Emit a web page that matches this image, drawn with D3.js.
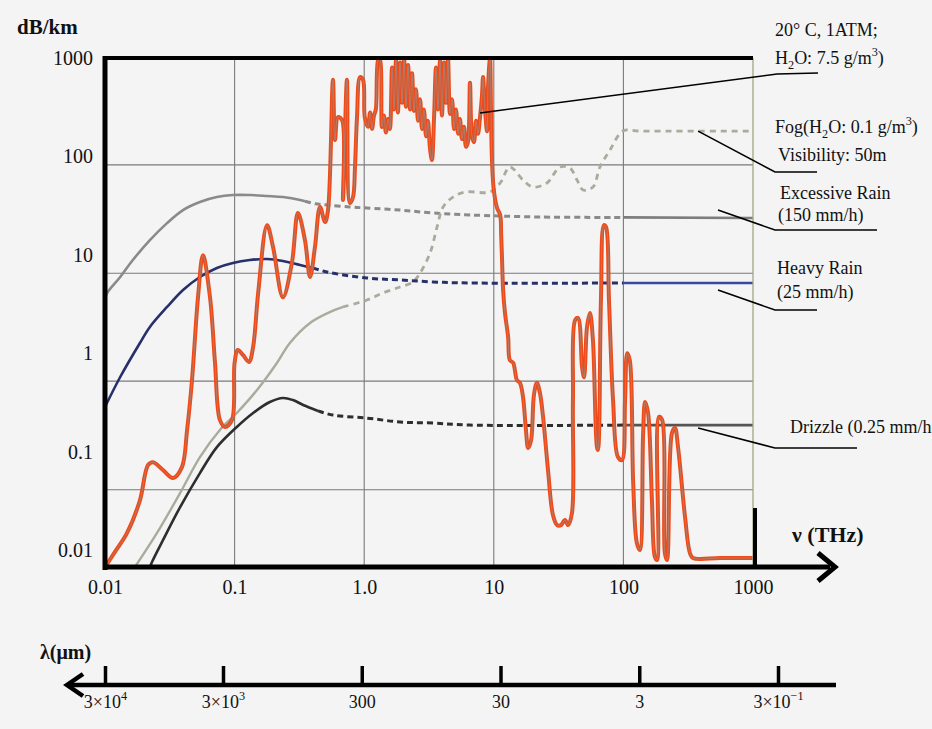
<!DOCTYPE html>
<html>
<head>
<meta charset="utf-8">
<script src="https://cdn.jsdelivr.net/npm/d3@7"></script>
<style>
  html, body { margin: 0; padding: 0; background: #f4f4f4; }
  svg { display: block; font-family: "Liberation Serif", "Times New Roman", serif; }
</style>
</head>
<body>
<svg id="chart" width="932" height="729"></svg>
<script>
// ---- axis ticks -------------------------------------------------------
const freqTicks = [0.01, 0.1, 1, 10, 100, 1000];                 // THz
const freqTickLabels = ["0.01", "0.1", "1.0", "10", "100", "1000"];
const attenTicks = [1000, 100, 10, 1, 0.1, 0.01];                // dB/km
const attenTickLabels = ["1000", "100", "10", "1", "0.1", "0.01"];
const gridRows = [82, 6.5, 0.52, 0.041];                         // horizontal grid rules, dB/km
const gridCols = [0.1, 1, 10, 100];                              // vertical grid rules, THz
const wavelengthTicks = [3e4, 3e3, 300, 30, 3, 0.3];             // µm
const wavelengthLabels = ["3×10^{4}", "3×10^{3}", "300", "30", "3", "3×10^{−1}"];

// ---- attenuation curves: [frequency THz, attenuation dB/km] ------------
// Water vapour absorption (20 °C, 1 atm, 7.5 g/m3)
const waterVapour = [
  [0.01, 0.0067], [0.0119, 0.0095], [0.0148, 0.0149], [0.0186, 0.032], [0.0215, 0.073],
  [0.0235, 0.078], [0.028, 0.065], [0.0335, 0.054], [0.0393, 0.070], [0.043, 0.166],
  [0.0469, 0.53], [0.0522, 3.7], [0.057, 9.9], [0.0646, 3.7], [0.0706, 0.8],
  [0.077, 0.21], [0.0843, 0.178], [0.0955, 0.21], [0.1, 0.8], [0.106, 1.08],
  [0.116, 0.96], [0.129, 0.815], [0.139, 1.16], [0.152, 4.1], [0.178, 20],
  [0.198, 12], [0.236, 3.7], [0.277, 8.3], [0.308, 26.6], [0.349, 14.1],
  [0.382, 5.95], [0.417, 12], [0.456, 30.6], [0.499, 21.5], [0.526, 28.5],
  [0.574, 600], [0.595, 147], [0.628, 251], [0.675, 234], [0.686, 36],
  [0.736, 600], [0.776, 33.6], [0.82, 38.6], [0.849, 78], [0.88, 251],
  [0.929, 640], [0.98, 600], [1.01, 251], [1.07, 200], [1.11, 280],
  [1.15, 190], [1.19, 260], [1.23, 300], [1.28, 955], [1.32, 1000],
  [1.37, 199], [1.42, 260], [1.47, 175], [1.53, 240], [1.58, 190],
  [1.64, 800], [1.70, 300], [1.76, 955], [1.82, 280], [1.89, 900],
  [1.96, 350], [2.03, 1000], [2.10, 320], [2.18, 850], [2.26, 300],
  [2.34, 700], [2.42, 290], [2.51, 480], [2.60, 230], [2.70, 380],
  [2.79, 190], [2.89, 300], [3.00, 160], [3.10, 230], [3.22, 120],
  [3.33, 92], [3.46, 250], [3.58, 800], [3.71, 300], [3.85, 955],
  [3.98, 260], [4.13, 900], [4.28, 350], [4.43, 1000], [4.59, 270],
  [4.76, 380], [4.93, 190], [5.11, 300], [5.30, 170], [5.48, 240],
  [5.68, 150], [5.89, 200], [6.10, 125], [6.32, 140], [6.55, 560],
  [6.79, 160], [7.03, 140], [7.29, 230], [7.55, 170], [7.83, 250],
  [8.11, 420], [8.26, 641], [8.55, 300], [8.87, 180], [9.02, 500],
  [9.35, 1000], [9.51, 300], [9.68, 92], [10.0, 45.6],
  [10.6, 29.9], [11.2, 25.4], [11.4, 15.9], [11.6, 8.3], [11.8, 4.4],
  [12.2, 2.56], [12.9, 1.46], [13.3, 0.85], [14.1, 0.8], [15.1, 0.53],
  [15.9, 0.5], [16.8, 0.36], [17.7, 0.166], [18.4, 0.109], [19.4, 0.131],
  [20.4, 0.376], [21.5, 0.5], [22.7, 0.394], [24, 0.225], [26.2, 0.065],
  [28.6, 0.0227], [30.8, 0.0179], [33, 0.0179], [35.4, 0.0202], [37.4, 0.0179],
  [40.1, 0.0238], [40.8, 0.334], [42.4, 2.17], [44.7, 2.28], [48, 0.72],
  [49.7, 0.57], [52.4, 1.85], [55.2, 2.56], [58.2, 1.36], [62.5, 0.111],
  [63.6, 0.104], [67.1, 3.47], [70.8, 20], [73.4, 19.2], [77.4, 3.47],
  [83.2, 0.334], [90.8, 0.088], [97.5, 0.082], [103, 0.334], [107, 1.0],
  [112, 0.85], [119, 0.048], [127, 0.0118], [134, 0.01], [142, 0.155],
  [147, 0.319], [155, 0.247], [166, 0.032], [175, 0.0085], [182, 0.0079],
  [188, 0.225], [199, 0.21], [209, 0.0093], [217, 0.0079], [237, 0.155],
  [250, 0.174], [264, 0.111], [299, 0.0216], [326, 0.0093], [344, 0.0083],
  [556, 0.0083], [1000, 0.0083]
];

// Excessive rain, 150 mm/h
const excessiveRain = [
  [0.01, 3.6], [0.0104, 4.1], [0.0131, 5.95], [0.0164, 8.85], [0.0222, 14.1],
  [0.0301, 21], [0.04, 28.5], [0.054, 34.4], [0.073, 38.6], [0.097, 40.5],
  [0.131, 40.5], [0.178, 39.6], [0.236, 38.6], [0.32, 36.1], [0.349, 35],
  [0.42, 33], [0.526, 32], [0.776, 30.6], [1.05, 29.9], [1.89, 28.5],
  [3.4, 26.6], [6.55, 25.4], [22.7, 24.2], [100, 24], [1000, 23.7]
];

// Heavy rain, 25 mm/h
const heavyRain = [
  [0.01, 0.284], [0.0131, 0.573], [0.0186, 1.27], [0.0222, 1.85],
  [0.0301, 2.95], [0.04, 4.39], [0.054, 5.95], [0.073, 7.35], [0.097, 8.26],
  [0.131, 8.85], [0.178, 9.06], [0.236, 8.65], [0.32, 7.87], [0.403, 7.35],
  [0.516, 6.68], [1.05, 5.81], [1.89, 5.55], [3.4, 5.3], [6.55, 5.17],
  [100, 5.17], [1000, 5.17]
];

// Drizzle, 0.25 mm/h
const drizzle = [
  [0.0222, 0.0067], [0.0231, 0.0076], [0.028, 0.0126], [0.038, 0.0273], [0.054, 0.0605],
  [0.073, 0.111], [0.104, 0.178], [0.139, 0.247], [0.187, 0.319], [0.236, 0.351],
  [0.282, 0.334], [0.338, 0.298], [0.44, 0.259], [0.574, 0.235], [1.05, 0.219],
  [1.89, 0.2], [3.4, 0.195], [6.55, 0.186], [100, 0.186], [1000, 0.186]
];

// Fog, 0.1 g/m3 (visibility 50 m)
const fog = [
  [0.017, 0.0067], [0.0252, 0.0149], [0.038, 0.038], [0.054, 0.088], [0.077, 0.166],
  [0.104, 0.247], [0.149, 0.423], [0.212, 0.795], [0.267, 1.27], [0.382, 2.03],
  [0.544, 2.62], [0.686, 2.95], [1.05, 3.47], [1.4, 4.1], [1.89, 4.71],
  [2.38, 5.3], [2.7, 6.53], [3.22, 10.4], [3.65, 19.2], [4.06, 30.6],
  [4.84, 38.6], [6, 43.5], [9.35, 43.5], [11.2, 53.7], [13.3, 78],
  [16.8, 57.5], [20, 48.8], [25.7, 53.7], [32.4, 78], [38.7, 76.2],
  [43.9, 57.5], [48.8, 45.6], [58.2, 48.8], [65.9, 78], [78.8, 116],
  [99.3, 181], [134, 181], [1000, 181]
];

// Series styling; solid below dashFrom, dashed between, solid again above dashTo
const series = [
  { data: excessiveRain, color: "#8a8a8a", tail: "#7d7d7d", width: 2.6, dashFrom: 0.349, dashTo: 100, dash: "6,4" },
  { data: fog,           color: "#a9ab9c", tail: "#a9ab9c", width: 2.4, dashFrom: 0.686, dashTo: 1000, dash: "6,5" },
  { data: heavyRain,     color: "#27306a", tail: "#3848a0", width: 2.6, dashFrom: 0.403, dashTo: 100, dash: "6,4" },
  { data: drizzle,       color: "#2e2e2e", tail: "#555555", width: 2.6, dashFrom: 0.44,  dashTo: 100, dash: "6,4" }
];

// Call-out labels: anchor on the curve in data units, elbow / end in page px
const callouts = [
  { anchor: [7.83, 276], elbow: [777, 74],  end: [818, 73] },
  { anchor: [377, 181],  elbow: [775, 172], end: [817, 172] },
  { anchor: [537, 28.5], elbow: [775, 230], end: [877, 230] },
  { anchor: [537, 4.39], elbow: [775, 310], end: [817, 310] },
  { anchor: [377, 0.174], elbow: [775, 448], end: [857, 448] }
];
const legendTexts = [
  { text: "20° C, 1ATM;",            x: 775, y: 36 },
  { text: "H_{2}O: 7.5 g/m^{3})",    x: 775, y: 64 },
  { text: "Fog(H_{2}O: 0.1 g/m^{3})", x: 775, y: 133 },
  { text: "Visibility: 50m",         x: 778, y: 161 },
  { text: "Excessive Rain",          x: 780, y: 199 },
  { text: "(150 mm/h)",              x: 778, y: 221 },
  { text: "Heavy Rain",              x: 777, y: 274 },
  { text: "(25 mm/h)",               x: 777, y: 298 },
  { text: "Drizzle (0.25 mm/h",      x: 790, y: 433 }
];

// ---- layout ----------------------------------------------------------
const plot = { left: 105, right: 753, top: 58, bottom: 567 };
const svg = d3.select("#chart");

const x = d3.scaleLog().domain([0.01, 1000]).range([plot.left, plot.right]);
const y = d3.scaleLog().domain([0.01, 1000]).range([550, plot.top]);
const wl = d3.scaleLog().domain([3e4, 3e3, 0.3]).range([105, 223, 778]);

// text with _{sub} / ^{sup} markup
function richText(sel, str, fs) {
  const re = /([_^])\{([^}]*)\}/g;
  let last = 0, m, shift = 0;
  const plain = s => { const t = sel.append("tspan").text(s); if (shift) { t.attr("dy", -shift); shift = 0; } };
  while ((m = re.exec(str))) {
    if (m.index > last) plain(str.slice(last, m.index));
    const d = m[1] === "_" ? 0.28 * fs : -0.42 * fs;
    sel.append("tspan").attr("dy", d - shift).attr("font-size", 0.68 * fs).text(m[2]);
    shift = d;
    last = re.lastIndex;
  }
  if (last < str.length) plain(str.slice(last));
}

// ---- grid -----------------------------------------------------------
const grid = svg.append("g").attr("stroke", "#7a7a7a").attr("stroke-width", 1.1);
grid.selectAll("line.col").data(gridCols).join("line")
  .attr("x1", d => x(d)).attr("x2", d => x(d))
  .attr("y1", plot.top).attr("y2", plot.bottom);
grid.selectAll("line.row").data(gridRows).join("line")
  .attr("x1", plot.left).attr("x2", plot.right)
  .attr("y1", d => y(d)).attr("y2", d => y(d));

// ---- curves ----------------------------------------------------------
svg.append("clipPath").attr("id", "plotClip").append("rect")
  .attr("x", plot.left).attr("y", plot.top - 1)
  .attr("width", plot.right - plot.left).attr("height", plot.bottom - plot.top + 1);

const line = d3.line().x(d => x(d[0])).y(d => y(d[1])).curve(d3.curveCatmullRom.alpha(0.5));
const curves = svg.append("g").attr("clip-path", "url(#plotClip)").attr("fill", "none")
  .attr("stroke-linecap", "butt").attr("stroke-linejoin", "round");

series.forEach(s => {
  const solid = s.data.filter(p => p[0] <= s.dashFrom);
  const dashed = s.data.filter(p => p[0] >= s.dashFrom && p[0] <= s.dashTo);
  const tail = s.data.filter(p => p[0] >= s.dashTo);
  curves.append("path").attr("d", line(solid)).attr("stroke", s.color).attr("stroke-width", s.width);
  curves.append("path").attr("d", line(dashed)).attr("stroke", s.color).attr("stroke-width", s.width + 0.4)
    .attr("stroke-dasharray", s.dash);
  if (tail.length > 1)
    curves.append("path").attr("d", d3.line().x(d => x(d[0])).y(d => y(d[1]))(tail))
      .attr("stroke", s.tail).attr("stroke-width", s.width);
});

curves.append("path").attr("d", line(waterVapour))
  .attr("stroke", "#ef4a17").attr("stroke-width", 4);
curves.append("path").attr("d", line(waterVapour))
  .attr("stroke", "#9a8c86").attr("stroke-width", 0.8);

// ---- frame & axes ---------------------------------------------------
const frame = svg.append("g").attr("stroke", "#000").attr("fill", "none");
frame.append("line").attr("x1", plot.right).attr("x2", plot.right)
  .attr("y1", plot.top).attr("y2", plot.bottom).attr("stroke", "#a3a783").attr("stroke-width", 1.3);
frame.append("line").attr("x1", plot.left - 2).attr("x2", plot.right)
  .attr("y1", plot.top).attr("y2", plot.top).attr("stroke-width", 4);
frame.append("line").attr("x1", plot.left).attr("x2", plot.left)
  .attr("y1", plot.top - 2).attr("y2", plot.bottom + 3).attr("stroke-width", 5);
frame.append("line").attr("x1", plot.right + 2).attr("x2", plot.right + 2)
  .attr("y1", 508).attr("y2", plot.bottom).attr("stroke-width", 4);
frame.append("line").attr("x1", plot.left - 2).attr("x2", 830)
  .attr("y1", plot.bottom).attr("y2", plot.bottom).attr("stroke-width", 5);
frame.append("polyline").attr("points", "818,553 835,567 818,581")
  .attr("stroke-width", 5).attr("stroke-linejoin", "miter");

const yAxis = svg.append("g").attr("transform", `translate(${plot.left},0)`)
  .call(d3.axisLeft(y).tickValues(attenTicks).tickFormat((d, i) => attenTickLabels[i])
    .tickSize(0).tickPadding(12));
yAxis.select(".domain").remove();
yAxis.selectAll("text").attr("font-family", "Liberation Serif, serif").attr("font-size", 20).attr("fill", "#111");

const xAxis = svg.append("g").attr("transform", `translate(0,${plot.bottom})`)
  .call(d3.axisBottom(x).tickValues(freqTicks).tickFormat((d, i) => freqTickLabels[i])
    .tickSize(0).tickPadding(13));
xAxis.select(".domain").remove();
xAxis.selectAll("text").attr("font-family", "Liberation Serif, serif").attr("font-size", 20).attr("fill", "#111");

// wavelength axis (arrow pointing to longer wavelengths)
const wlY = 685;
svg.append("line").attr("x1", 69).attr("x2", 836).attr("y1", wlY).attr("y2", wlY)
  .attr("stroke", "#000").attr("stroke-width", 4.5);
svg.append("polyline").attr("points", `83,${wlY - 11} 67,${wlY} 83,${wlY + 11}`)
  .attr("fill", "none").attr("stroke", "#000").attr("stroke-width", 4.5);
const wlTicks = svg.append("g").attr("transform", `translate(0,${wlY})`)
  .call(d3.axisTop(wl).tickValues(wavelengthTicks).tickFormat("").tickSize(19));
wlTicks.select(".domain").remove();
wlTicks.selectAll("line").attr("stroke", "#000").attr("stroke-width", 3.5);
const wlLabels = svg.append("g").attr("transform", `translate(0,${wlY})`)
  .call(d3.axisBottom(wl).tickValues(wavelengthTicks).tickFormat("").tickSize(0).tickPadding(9));
wlLabels.select(".domain").remove();
wlLabels.selectAll(".tick").each(function (d, i) {
  d3.select(this).append("text").attr("y", 23).attr("text-anchor", "middle")
    .attr("font-family", "Liberation Serif, serif").attr("font-size", 18).attr("fill", "#111")
    .call(t => richText(t, wavelengthLabels[i], 18));
});

// axis titles
svg.append("text").attr("x", 17).attr("y", 34).attr("font-size", 21).attr("font-weight", "bold")
  .attr("fill", "#111").text("dB/km");
svg.append("text").attr("x", 792).attr("y", 542).attr("font-size", 22).attr("font-weight", "bold")
  .attr("fill", "#111").text("ν (THz)");
svg.append("text").attr("x", 40).attr("y", 659).attr("font-size", 20).attr("font-weight", "bold")
  .attr("fill", "#111").text("λ(μm)");

// ---- call-outs ------------------------------------------------------
svg.append("g").attr("fill", "none").attr("stroke", "#000").attr("stroke-width", 1.5)
  .selectAll("polyline").data(callouts).join("polyline")
  .attr("points", d => [[x(d.anchor[0]), y(d.anchor[1])], d.elbow, d.end].map(p => p.join(",")).join(" "));

legendTexts.forEach(l => {
  svg.append("text").attr("x", l.x).attr("y", l.y).attr("font-size", 18).attr("fill", "#111")
    .call(t => richText(t, l.text, 18));
});
</script>
</body>
</html>
